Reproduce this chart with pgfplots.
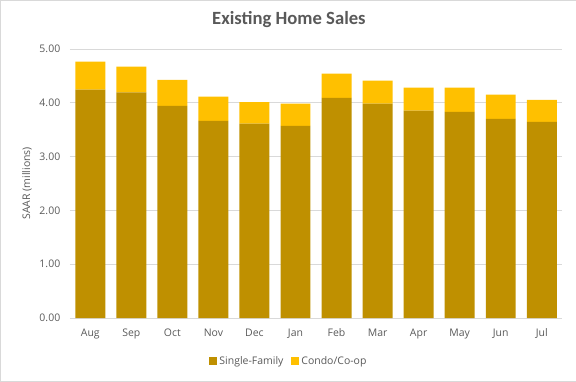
\documentclass[border=0pt]{standalone}
\usepackage{pgfplots}
\pgfplotsset{compat=1.18}
\usepackage{fontspec}
\setmainfont{Carlito}
\newfontfamily\tickfont{Open Sans}
\definecolor{sfam}{HTML}{BF9000}
\definecolor{condo}{HTML}{FFC000}
\definecolor{txt}{HTML}{595959}
\definecolor{gridc}{HTML}{D9D9D9}
\begin{document}
\begin{tikzpicture}[x=1bp,y=1bp]
\draw[gridc] (0.5,0.5) rectangle (575.5,381.5);
\begin{axis}[
  at={(70bp,64bp)}, anchor=south west,
  width=492bp, height=269bp, scale only axis,
  ybar stacked, bar width=0.73,
  xmin=-0.5, xmax=11.5, ymin=0, ymax=5,
  xtick=data,
  xticklabels={Aug,Sep,Oct,Nov,Dec,Jan,Feb,Mar,Apr,May,Jun,Jul},
  ytick={0,1,2,3,4,5},
  /pgf/number format/assume math mode=true,
  yticklabel style={/pgf/number format/fixed,/pgf/number format/fixed zerofill,/pgf/number format/precision=2, xshift=-6bp},
  ticklabel style={font=\tickfont\fontsize{10.5}{13}\selectfont, text=txt},
  major tick length=0pt,
  axis line style={draw=none},
  axis x line*=bottom,
  x axis line style={draw=gridc},
  xmajorgrids=false,
  ymajorgrids, grid style={draw=gridc},
  xtick pos=bottom,
  xticklabel style={yshift=-7bp},
  ylabel={SAAR (millions)},
  ylabel style={at={(axis description cs:-0.087,0.5)}, anchor=center, font=\tickfont\fontsize{10.5}{13}\selectfont, text=txt},
  title={Existing Home Sales},
  title style={at={(axis description cs:0.445,1.0855)}, anchor=center, font=\bfseries\fontsize{18.7}{22}\selectfont, text=txt},
  legend columns=2,
  legend style={at={(axis description cs:0.445,-0.16)}, anchor=center, draw=none, font=\tickfont\fontsize{10.5}{13}\selectfont, text=txt, /tikz/every even column/.append style={column sep=6bp}},
  legend image code/.code={\fill[#1] (0bp,-4bp) rectangle (8bp,4bp);},
]
\addplot[fill=sfam, draw=none] coordinates {(0,4.24) (1,4.19) (2,3.94) (3,3.66) (4,3.61) (5,3.57) (6,4.09) (7,3.98) (8,3.85) (9,3.83) (10,3.70) (11,3.64)};
\addplot[fill=condo, draw=none] coordinates {(0,0.52) (1,0.48) (2,0.48) (3,0.45) (4,0.40) (5,0.41) (6,0.45) (7,0.43) (8,0.43) (9,0.45) (10,0.45) (11,0.41)};
\legend{Single-Family, Condo/Co-op}
\end{axis}
\end{tikzpicture}
\end{document}
